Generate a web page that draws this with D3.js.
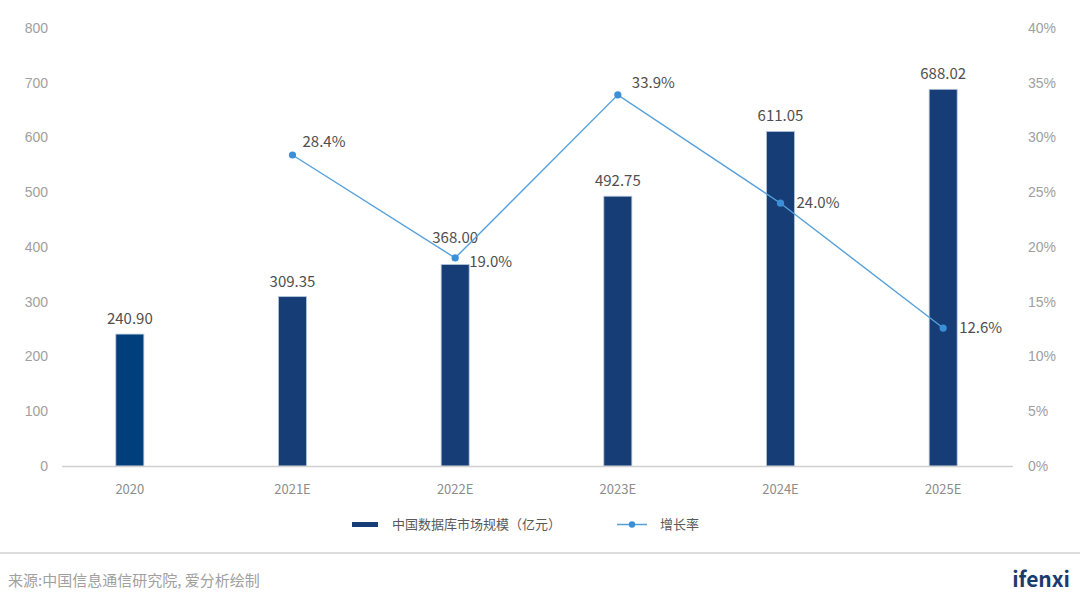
<!DOCTYPE html>
<html>
<head>
<meta charset="utf-8">
<script src="https://cdn.jsdelivr.net/npm/d3@7"></script>
<style>
  html, body { margin: 0; padding: 0; background: #fff; }
  svg { display: block; font-family: "Noto Sans CJK SC", "Noto Sans", sans-serif; }
</style>
</head>
<body>
<div id="chart"></div>
<script>
// Chart data
const categories = ["2020", "2021E", "2022E", "2023E", "2024E", "2025E"];
const marketSize = [240.90, 309.35, 368.00, 492.75, 611.05, 688.02];
const growthRate = [null, 28.4, 19.0, 33.9, 24.0, 12.6];
const leftTicks = [0, 100, 200, 300, 400, 500, 600, 700, 800];
const rightTicks = [0, 5, 10, 15, 20, 25, 30, 35, 40];
const barName = "中国数据库市场规模（亿元）";
const lineName = "增长率";
const sourceText = "来源:中国信息通信研究院, 爱分析绘制";

{
    const width = 1080, height = 602;
    const top = 28, bottom = 466;

    const svg = d3.select("#chart")
        .append("svg")
        .attr("width", width)
        .attr("height", height);

    const x = d3.scaleBand()
        .domain(categories)
        .range([48.5, 1024.5]);

    const y = d3.scaleLinear().domain([0, 800]).range([bottom, top]);
    const y2 = d3.scaleLinear().domain([0, 40]).range([bottom, top]);

    // Left axis
    const left = svg.append("g")
        .attr("transform", "translate(48,0)")
        .call(d3.axisLeft(y).tickValues(leftTicks).tickSize(0).tickPadding(0));
    left.select(".domain").remove();
    left.selectAll("text")
        .attr("fill", "#a0a0a0")
        .attr("font-size", "14px")
        .style("font-family", "inherit");

    // Right axis
    const right = svg.append("g")
        .attr("transform", "translate(1028,0)")
        .call(d3.axisRight(y2).tickValues(rightTicks).tickSize(0).tickPadding(0)
            .tickFormat(d => d + "%"));
    right.select(".domain").remove();
    right.selectAll("text")
        .attr("fill", "#a0a0a0")
        .attr("font-size", "14px")
        .style("font-family", "inherit");

    // Bars
    const barW = 28;
    svg.append("g")
        .selectAll("rect")
        .data(marketSize)
        .join("rect")
        .attr("x", (d, i) => x(categories[i]) + x.bandwidth() / 2 - barW / 2)
        .attr("y", d => y(d))
        .attr("width", barW)
        .attr("height", d => bottom - y(d))
        .attr("fill", (d, i) => i === 0 ? "#003e7c" : "#163d76")
        .attr("stroke", "#b5c6dc")
        .attr("stroke-width", 0.8);

    // Baseline
    svg.append("line")
        .attr("x1", 62).attr("x2", 1013)
        .attr("y1", bottom + 0.5).attr("y2", bottom + 0.5)
        .attr("stroke", "#d0d0d0")
        .attr("stroke-width", 1.5);

    // X labels
    svg.append("g")
        .selectAll("text")
        .data(categories)
        .join("text")
        .attr("x", d => x(d) + x.bandwidth() / 2)
        .attr("y", 494)
        .attr("text-anchor", "middle")
        .attr("fill", "#8c8c8c")
        .attr("font-size", "13px")
        .text(d => d);

    // Bar value labels (2022E label lifted to clear the line marker)
    const barLabelLift = { "2022E": 12 };
    svg.append("g")
        .selectAll("text")
        .data(marketSize)
        .join("text")
        .attr("x", (d, i) => x(categories[i]) + x.bandwidth() / 2)
        .attr("y", (d, i) => y(d) - 10 - (barLabelLift[categories[i]] || 0))
        .attr("text-anchor", "middle")
        .attr("fill", "#4f4f4f")
        .attr("font-size", "15px")
        .text(d => d.toFixed(2));

    // Growth line
    const pts = growthRate
        .map((v, i) => ({ cat: categories[i], v }))
        .filter(d => d.v !== null);

    const line = d3.line()
        .x(d => x(d.cat) + x.bandwidth() / 2)
        .y(d => y2(d.v));

    svg.append("path")
        .datum(pts)
        .attr("d", line)
        .attr("fill", "none")
        .attr("stroke", "#55a0da")
        .attr("stroke-width", 1.4);

    svg.append("g")
        .selectAll("circle")
        .data(pts)
        .join("circle")
        .attr("cx", d => x(d.cat) + x.bandwidth() / 2)
        .attr("cy", d => y2(d.v))
        .attr("r", 3.6)
        .attr("fill", "#3a8fd8");

    // Rate labels placement
    const rateDx = { "2021E": 10, "2022E": 14, "2023E": 14, "2024E": 16, "2025E": 16 };
    const rateDy = { "2021E": -8, "2022E": 9, "2023E": -7, "2024E": 5, "2025E": 5 };
    svg.append("g")
        .selectAll("text")
        .data(pts)
        .join("text")
        .attr("x", d => x(d.cat) + x.bandwidth() / 2 + rateDx[d.cat])
        .attr("y", d => y2(d.v) + rateDy[d.cat])
        .attr("fill", "#4f4f4f")
        .attr("font-size", "15px")
        .text(d => d.v.toFixed(1) + "%");

    // Legend
    const legend = svg.append("g");
    legend.append("rect")
        .attr("x", 352).attr("y", 522)
        .attr("width", 26).attr("height", 5)
        .attr("fill", "#163d76");
    legend.append("text")
        .attr("x", 392).attr("y", 529)
        .attr("fill", "#595959")
        .attr("font-size", "13px")
        .text(barName);
    legend.append("line")
        .attr("x1", 617).attr("x2", 647)
        .attr("y1", 524.5).attr("y2", 524.5)
        .attr("stroke", "#55a0da")
        .attr("stroke-width", 1.5);
    legend.append("circle")
        .attr("cx", 632).attr("cy", 524.5)
        .attr("r", 3.2)
        .attr("fill", "#3a8fd8");
    legend.append("text")
        .attr("x", 660).attr("y", 529)
        .attr("fill", "#595959")
        .attr("font-size", "13px")
        .text(lineName);

    // Footer
    svg.append("line")
        .attr("x1", 0).attr("x2", width)
        .attr("y1", 553).attr("y2", 553)
        .attr("stroke", "#dcdcdc")
        .attr("stroke-width", 2);
    svg.append("text")
        .attr("x", 8).attr("y", 586)
        .attr("fill", "#a0a0a0")
        .attr("font-size", "15px")
        .text(sourceText);
    svg.append("text")
        .attr("x", 1070).attr("y", 587)
        .attr("text-anchor", "end")
        .attr("fill", "#1b3b6e")
        .attr("font-size", "21px")
        .attr("font-weight", "bold")
        .text("ifenxi");
}
</script>
</body>
</html>
